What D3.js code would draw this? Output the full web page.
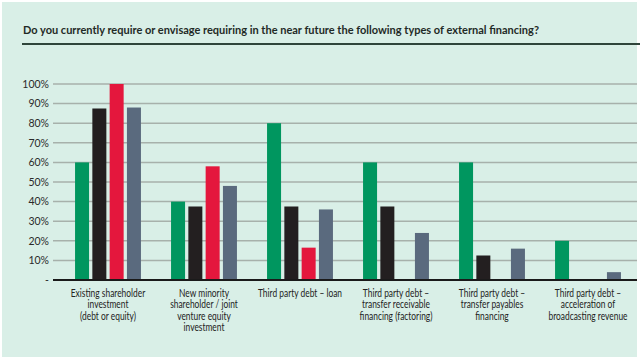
<!DOCTYPE html>
<html><head><meta charset="utf-8">
<script src="https://cdn.jsdelivr.net/npm/d3@7"></script>
<style>html,body{margin:0;padding:0;background:#fff;}svg{display:block;}</style>
</head><body>
<script>
const categories = [
  ["Existing shareholder","investment","(debt or equity)"],
  ["New minority","shareholder / joint","venture equity","investment"],
  ["Third party debt – loan"],
  ["Third party debt –","transfer receivable","financing (factoring)"],
  ["Third party debt –","transfer payables","financing"],
  ["Third party debt –","acceleration of","broadcasting revenue"]
];
const seriesNames = ["A","B","C","D"];
const seriesA = [60, 40, 80, 60, 60, 20];
const seriesB = [87.5, 37.5, 37.5, 37.5, 12.5, 0];
const seriesC = [100, 58, 16.5, 0, 0, 0];
const seriesD = [88, 48, 36, 24, 16, 4];
const tickValues = [0,10,20,30,40,50,60,70,80,90,100];
const tickLabels = ["-","10%","20%","30%","40%","50%","60%","70%","80%","90%","100%"];
const colors = ["#00965f","#231f20","#e4173d","#5a6a7e"];
const title = "Do you currently require or envisage requiring in the near future the following types of external financing?";

const W = 640, H = 359;
const svg = d3.select("body").append("svg").attr("width",W).attr("height",H);
svg.append("rect").attr("x",2).attr("y",2).attr("width",635).attr("height",355).attr("fill","#d9efe7");

svg.append("text").attr("x",23).attr("y",34).text(title)
  .attr("font-family","Lato, 'Open Sans', sans-serif").attr("font-weight","bold")
  .attr("font-size",11).attr("fill","#1f2a26");
svg.append("line").attr("x1",22).attr("x2",640).attr("y1",44).attr("y2",44)
  .attr("stroke","#2f453b").attr("stroke-width",2);

const y = d3.scaleLinear().domain([0,100]).range([280,84]);
const x0 = d3.scaleBand().domain(d3.range(categories.length)).range([60,636]).padding(0);
const x1 = d3.scaleBand().domain(seriesNames).range([0,x0.bandwidth()]).paddingInner(0.19).paddingOuter(0.87);

// gridlines
svg.append("g").selectAll("line").data(tickValues.filter(v=>v>0)).join("line")
  .attr("x1",53).attr("x2",637).attr("y1",d=>y(d)).attr("y2",d=>y(d))
  .attr("stroke","#a7b1ab").attr("stroke-width",1.5);

// y axis labels
const yAxis = d3.axisLeft(y).tickValues(tickValues).tickFormat((d,i)=>tickLabels[i]).tickSize(0).tickPadding(0);
const ga = svg.append("g").attr("transform","translate(49,0)").call(yAxis);
ga.select(".domain").remove();
ga.selectAll("text").attr("font-family","Lato, sans-serif").attr("font-size",10.5).attr("fill","#2a2a2a");

const series = [seriesA, seriesB, seriesC, seriesD];
const groups = svg.append("g").selectAll("g").data(categories).join("g")
  .attr("transform",(d,i)=>`translate(${x0(i)},0)`);
groups.selectAll("rect").data((d,i)=>seriesNames.map((s,j)=>({s, j, v: series[j][i]}))).join("rect")
  .filter(d=>d.v>0)
  .attr("x",d=>x1(d.s)).attr("width",x1.bandwidth())
  .attr("y",d=>y(d.v)).attr("height",d=>y(0)-y(d.v))
  .attr("fill",d=>colors[d.j]);

// baseline
svg.append("line").attr("x1",53).attr("x2",637).attr("y1",y(0)).attr("y2",y(0))
  .attr("stroke","#1a1a1a").attr("stroke-width",2);

// category labels (condensed)
const cl = svg.append("g").selectAll("text").data(categories).join("text")
  .attr("transform",(d,i)=>`translate(${x0(i)+x0.bandwidth()/2},297) scale(0.8,1)`)
  .attr("text-anchor","middle")
  .attr("font-family","Lato, sans-serif")
  .attr("font-size",10.5).attr("fill","#222");
cl.selectAll("tspan").data(d=>d).join("tspan")
  .attr("x",0)
  .attr("dy",(d,i)=>i===0?0:11.5).text(d=>d);
</script>
</body></html>
